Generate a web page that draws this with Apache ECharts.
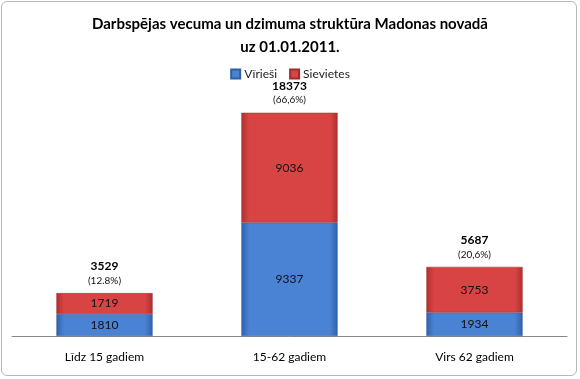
<!DOCTYPE html>
<html>
<head>
<meta charset="utf-8">
<script src="https://cdn.jsdelivr.net/npm/echarts@6/dist/echarts.min.js"></script>
<style>
html,body{margin:0;padding:0;background:#fff;}
#wrap{position:absolute;left:1px;top:1px;width:576px;height:375px;border:1px solid #b8b8b8;border-radius:6px;box-sizing:border-box;}
#chart{position:absolute;left:0;top:0;width:580px;height:379px;}
</style>
</head>
<body>
<div id="wrap"></div>
<div id="chart"></div>
<script>
var categories = ['Līdz 15 gadiem', '15-62 gadiem', 'Virs 62 gadiem'];
var men = [1810, 9337, 1934];
var women = [1719, 9036, 3753];
var totals = [3529, 18373, 5687];
var shares = ['(12.8%)', '(66,6%)', '(20,6%)'];
var titleLines = ['Darbspējas vecuma un dzimuma struktūra Madonas novadā', 'uz 01.01.2011.'];

var FONT = 'Lato, "Open Sans", sans-serif';
function grad(edge, mid) {
  return new echarts.graphic.LinearGradient(0, 0, 1, 0, [
    {offset: 0, color: edge}, {offset: 0.08, color: mid}, {offset: 0.92, color: mid}, {offset: 1, color: edge}
  ]);
}
var chart = echarts.init(document.getElementById('chart'));
chart.setOption({
  animation: false,
  title: {
    text: titleLines.join('\n'),
    left: 'center', top: 8,
    textStyle: {fontFamily: FONT, fontSize: 15, fontWeight: 'bold', color: '#000', lineHeight: 23}
  },
  legend: {
    top: 63, left: 'center',
    itemWidth: 9, itemHeight: 9, itemGap: 12,
    icon: 'rect',
    textStyle: {fontFamily: FONT, fontSize: 12, color: '#222', padding: [0, 0, 0, -1]},
    data: ['Vīrieši', 'Sievietes']
  },
  grid: {left: 12, right: 13, top: 93, bottom: 43, containLabel: false},
  xAxis: {
    type: 'category', data: categories,
    axisLine: {lineStyle: {color: '#888'}},
    axisTick: {show: false},
    axisLabel: {fontFamily: FONT, fontSize: 12, color: '#000', margin: 15}
  },
  yAxis: {type: 'value', min: 0, max: 20000, show: false, splitLine: {show: false}},
  series: [
    {
      name: 'Vīrieši', type: 'bar', stack: 's', data: men, barWidth: '52%',
      itemStyle: {color: grad('#2f62ad', '#4a82d4'), borderColor: '#2f5f9e', borderWidth: 0.5},
      label: {show: true, position: 'inside', fontFamily: FONT, fontSize: 12, color: '#111'}
    },
    {
      name: 'Sievietes', type: 'bar', stack: 's', data: women, barWidth: '52%',
      itemStyle: {color: grad('#b02f2f', '#d84444'), borderColor: '#9e2d2d', borderWidth: 0.5},
      label: {show: true, position: 'inside', fontFamily: FONT, fontSize: 12, color: '#111'}
    },
    {
      name: 'total', type: 'bar', stack: 's', data: totals.map(function(){return 0;}), barWidth: '52%',
      itemStyle: {color: 'transparent'},
      label: {
        show: true, position: 'top', distance: 6,
        formatter: function(p){ return '{a|' + totals[p.dataIndex] + '}\n{b|' + shares[p.dataIndex] + '}'; },
        rich: {
          a: {fontFamily: FONT, fontSize: 12, fontWeight: 'bold', color: '#000', lineHeight: 16, align: 'center'},
          b: {fontFamily: FONT, fontSize: 10, color: '#111', lineHeight: 13, align: 'center'}
        }
      }
    }
  ]
});
</script>
</body>
</html>
